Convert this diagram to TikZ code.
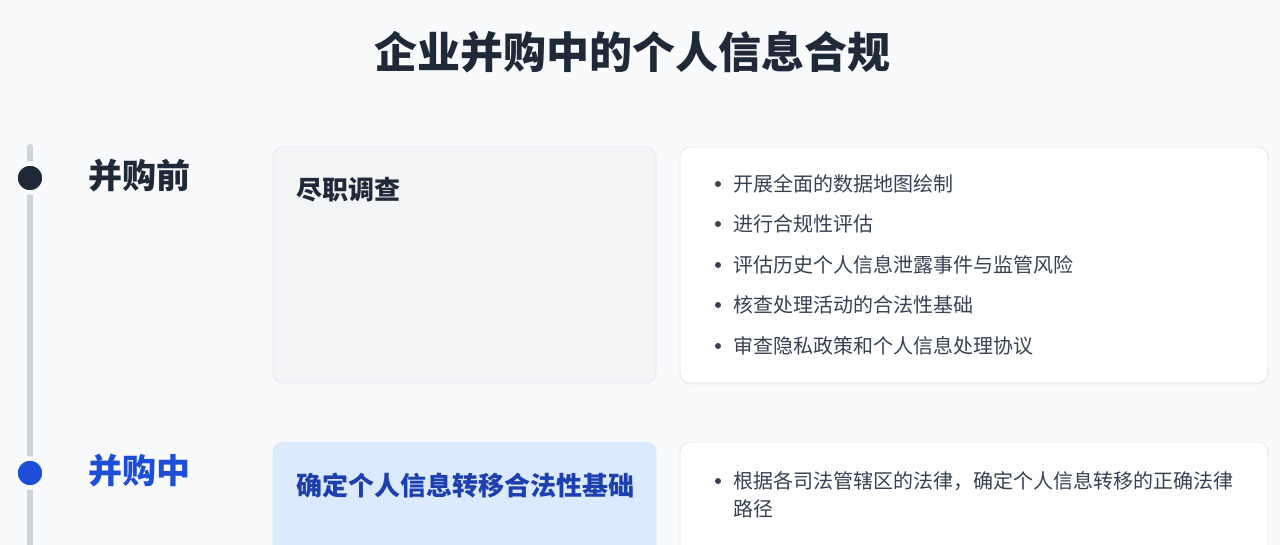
\documentclass[tikz,border=0pt]{standalone}
\usepackage{fontspec}
\setmainfont{Noto Sans CJK SC}
\usetikzlibrary{shadows}
\definecolor{bgc}{HTML}{F8FAFC}
\definecolor{darktxt}{HTML}{1F2937}
\definecolor{bodytxt}{HTML}{374151}
\definecolor{bluedot}{HTML}{1D4ED8}
\definecolor{bluetxt}{HTML}{1E40AF}
\definecolor{bluefill}{HTML}{DBEAFE}
\definecolor{grayfill}{HTML}{F3F4F6}
\definecolor{grayline}{HTML}{D1D5DB}
\definecolor{boxborder}{HTML}{E5E7EB}
\tikzset{
  phasedot/.style={circle, minimum size=29pt, inner sep=0pt, draw=bgc, line width=4.5pt},
  phaselabel/.style={anchor=west, inner sep=0pt, font=\fontsize{34}{40}\selectfont\bfseries},
  topicbox/.style={rounded corners=10pt, draw=boxborder, line width=0.8pt},
  detailbox/.style={rounded corners=10pt, fill=white, draw=boxborder, line width=0.8pt,
    drop shadow={opacity=0.07, shadow xshift=0pt, shadow yshift=-1.5pt}},
  topictext/.style={anchor=west, inner sep=0pt, font=\fontsize{26}{30}\selectfont\bfseries},
  itemtext/.style={anchor=west, inner sep=0pt, align=left, text=bodytxt, font=\fontsize{20}{28}\selectfont},
  bulletdot/.style={circle, fill=bodytxt, inner sep=0pt, minimum size=6pt},
}
\begin{document}
\begin{tikzpicture}[x=1pt, y=-1pt]
\fill[bgc] (0,0) rectangle (1280,545);
\useasboundingbox (0,0) rectangle (1280,545);
\clip (0,0) rectangle (1280,545);

% title
\node[inner sep=0pt, text=darktxt, font=\fontsize{43}{50}\selectfont\bfseries] (title) at (632,52) {企业并购中的个人信息合规};

% timeline
\coordinate (tltop) at (30,147);
\coordinate (tlbot) at (30,560);
\draw[grayline, line width=6pt, line cap=round] (tltop) -- (tlbot);
\node[phasedot, fill=darktxt] (dot1) at (30,178) {};
\node[phasedot, fill=bluedot] (dot2) at (30,473) {};

\node[phaselabel, text=darktxt] (lab1) at (88,176) {并购前};
\node[phaselabel, text=bluedot] (lab2) at (88,471) {并购中};

% phase 1 boxes
\draw[topicbox, fill=grayfill] (273,147) rectangle (656,383);
\node[topictext, text=darktxt] (topic1) at (296,190) {尽职调查};

\draw[detailbox] (680,147) rectangle (1268,383);
\foreach \yy/\tx [count=\i] in {184/开展全面的数据地图绘制, 224/进行合规性评估, 265/评估历史个人信息泄露事件与监管风险, 305/核查处理活动的合法性基础, 346/审查隐私政策和个人信息处理协议}{
  \node[bulletdot] (b1\i) at (718,\yy) {};
  \node[itemtext] (t1\i) at (733,\yy) {\tx};
}

% phase 2 boxes
\draw[topicbox, fill=bluefill, draw=bluefill] (273,442) rectangle (656,580);
\node[topictext, text=bluetxt] (topic2) at (296,486) {确定个人信息转移合法性基础};

\draw[detailbox] (680,442) rectangle (1268,580);
\node[bulletdot] (b21) at (718,481) {};
\node[itemtext] (t21) at (733,495) {根据各司法管辖区的法律，确定个人信息转移的正确法律\\路径};
\end{tikzpicture}
\end{document}
